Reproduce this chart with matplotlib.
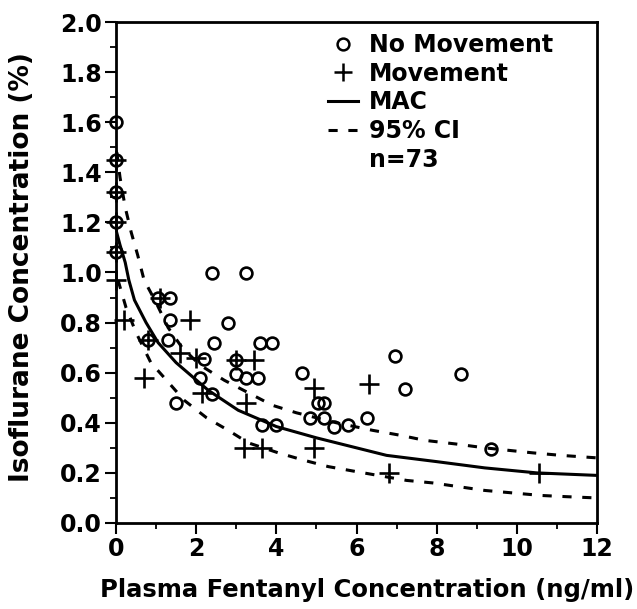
import matplotlib
matplotlib.use("Agg")
import matplotlib.pyplot as plt
from matplotlib.lines import Line2D
from matplotlib.ticker import MultipleLocator, FormatStrFormatter

plt.rcParams['font.family'] = ['DejaVu Sans']
plt.rcParams['font.weight'] = 'bold'

# No Movement (open circles)
nomove_x = [0, 0, 0, 0, 0, 1.05, 1.35, 1.35, 0.8, 1.3, 2.4, 3.25, 2.8, 2.45,
            3.6, 3.9, 2.2, 1.5, 2.1, 2.4, 3.0, 3.0, 3.25, 3.55, 3.65, 4.0,
            4.65, 4.85, 5.05, 5.2, 5.2, 5.45, 5.8, 6.25, 6.95, 7.2, 8.6, 9.35]
nomove_y = [1.6, 1.45, 1.32, 1.2, 1.08, 0.9, 0.9, 0.81, 0.73, 0.73, 1.0, 1.0, 0.80, 0.72,
            0.72, 0.72, 0.655, 0.48, 0.58, 0.515, 0.65, 0.595, 0.58, 0.58, 0.39, 0.39,
            0.60, 0.42, 0.48, 0.48, 0.42, 0.385, 0.39, 0.42, 0.665, 0.535, 0.595, 0.295]

# Movement (plus)
move_x = [0, 0, 0, 0, 0, 0.2, 1.1, 0.8, 1.85, 1.6, 2.0, 0.7, 2.15, 3.0, 3.45,
          3.25, 3.2, 3.65, 4.95, 4.95, 6.3, 6.8, 10.55]
move_y = [1.45, 1.32, 1.2, 1.08, 0.97, 0.81, 0.9, 0.73, 0.81, 0.68, 0.66, 0.58, 0.52, 0.65, 0.65,
          0.48, 0.30, 0.30, 0.54, 0.30, 0.555, 0.20, 0.20]

# MAC curve
mac_x = [0, 0.1, 0.23, 0.32, 0.46, 0.75, 1.05, 1.5, 2.3, 3.05, 4.0, 5.0, 5.5, 6.75, 8.0, 9.2, 10.5, 12]
mac_y = [1.17, 1.11, 1.04, 0.97, 0.89, 0.80, 0.72, 0.64, 0.53, 0.45, 0.385, 0.34, 0.32, 0.27, 0.245, 0.22, 0.20, 0.19]

# 95% CI curves
up_x = [0.02, 0.1, 0.23, 0.38, 0.54, 0.7, 1.0, 1.3, 1.65, 2.1, 2.7, 3.3, 3.9, 4.5, 5.5, 6.4, 7.1, 7.7, 8.5, 9.2, 10.4, 11.1, 12]
up_y = [1.48, 1.38, 1.26, 1.16, 1.07, 0.97, 0.88, 0.78, 0.70, 0.63, 0.57, 0.52, 0.47, 0.44, 0.40, 0.37, 0.35, 0.33, 0.315, 0.30, 0.28, 0.27, 0.26]
lo_x = [0.05, 0.25, 0.5, 0.87, 1.26, 1.7, 2.26, 2.8, 3.3, 4.05, 4.7, 5.3, 6.0, 7.25, 7.9, 8.55, 9.2, 9.9, 10.6, 11.25, 12]
lo_y = [0.97, 0.86, 0.76, 0.64, 0.57, 0.49, 0.42, 0.37, 0.32, 0.28, 0.25, 0.225, 0.205, 0.17, 0.16, 0.145, 0.13, 0.12, 0.11, 0.105, 0.10]

fig = plt.figure(figsize=(6.37, 6.09), dpi=100)
L, R, T, B = 116, 597, 22, 523
ax = fig.add_axes([L/637, 1 - B/609, (R-L)/637, (B-T)/609])

ax.plot(mac_x, mac_y, color='black', lw=2.2, solid_capstyle='butt')
ax.plot(up_x, up_y, color='black', lw=2.2, dashes=(3, 3.5))
ax.plot(lo_x, lo_y, color='black', lw=2.2, dashes=(3, 3.5))

ax.plot(nomove_x, nomove_y, 'o', ms=8.5, mfc='none', mec='black', mew=1.9, linestyle='none', clip_on=False)
ax.plot(move_x, move_y, '+', ms=15, mec='black', mew=1.9, linestyle='none', clip_on=False)

ax.set_xlim(0, 12)
ax.set_ylim(0, 2.0)
ax.xaxis.set_major_locator(MultipleLocator(2))
ax.xaxis.set_minor_locator(MultipleLocator(1))
ax.yaxis.set_major_locator(MultipleLocator(0.2))
ax.yaxis.set_minor_locator(MultipleLocator(0.1))
ax.yaxis.set_major_formatter(FormatStrFormatter('%.1f'))
ax.tick_params(which='major', direction='out', length=8, width=1.5, labelsize=17, pad=2)
ax.tick_params(which='minor', direction='out', length=4, width=1.3)
for lab in ax.get_xticklabels() + ax.get_yticklabels():
    lab.set_fontweight('bold')
for s in ax.spines.values():
    s.set_linewidth(2)

ax.set_xlabel('Plasma Fentanyl Concentration (ng/ml)', fontsize=17.5, fontweight='bold')
ax.xaxis.set_label_coords(0.523, -0.11)
ax.set_ylabel('Isoflurane Concentration (%)', fontsize=19, fontweight='bold')
ax.yaxis.set_label_coords(-0.168, 0.51)

handles = [
    Line2D([], [], marker='o', ms=8.5, mfc='none', mec='black', mew=1.8, linestyle='none'),
    Line2D([], [], marker='+', ms=13, mec='black', mew=1.8, linestyle='none'),
    Line2D([], [], color='black', lw=2.2),
    Line2D([], [], color='black', lw=2.2, dashes=(3, 3.5)),
    Line2D([], [], linestyle='none'),
]
labels = ['No Movement', 'Movement', 'MAC', '95% CI', 'n=73']
leg = ax.legend(handles, labels, loc='upper left', bbox_to_anchor=(0.44, 0.978), frameon=False,
                prop={'size': 17, 'weight': 'bold'}, handlelength=1.3, handletextpad=0.45,
                labelspacing=0.2, borderaxespad=0.0, borderpad=0.0)

fig.savefig('out.png', dpi=100)
